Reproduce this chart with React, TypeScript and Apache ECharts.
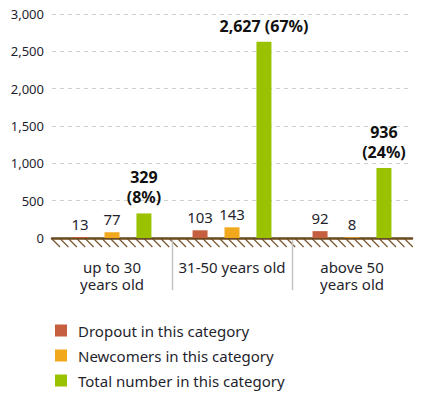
import React, { useEffect, useRef } from "react";
import * as echarts from "echarts";

const categories = ["up to 30\nyears old", "31-50 years old", "above 50\nyears old"];
const dropout = [13, 103, 92];
const newcomers = [77, 143, 8];
const totals = [329, 2627, 936];
const shares = ["8%", "67%", "24%"];
const seriesNames = ["Dropout in this category", "Newcomers in this category", "Total number in this category"];
const yTicks = { min: 0, max: 3000, interval: 500 };

const FONT = "Noto Sans";
const W = 431;
const H = 398;
const GL = 52;
const GR = 412;
const GT = 14;
const GB = 238;

export default function App() {
  const ref = useRef<HTMLDivElement>(null);
  useEffect(() => {
    if (!ref.current) return;
    const chart = echarts.init(ref.current, null, { renderer: "svg" });
    const fmt = (v: number) => v.toLocaleString("en-US");
    const catW = (GR - GL) / categories.length;
    const graphics: any[] = [];
    // hatching under the axis
    for (let x = GL; x < GR - 4; x += 8.4) {
      graphics.push({
        type: "line",
        shape: { x1: x, y1: GB + 1, x2: Math.min(x + 8, GR + 4), y2: GB + 9 },
        style: { stroke: "#7a5631", lineWidth: 1.2 },
        silent: true,
      });
    }
    for (let i = 1; i < categories.length; i++) {
      const x = Math.round(GL + catW * i) + 0.5;
      graphics.push({
        type: "line",
        shape: { x1: x, y1: GB + 1, x2: x, y2: GB + 52 },
        style: { stroke: "#c4c4c4", lineWidth: 1.5 },
        silent: true,
      });
    }
    const baseLabel = {
      show: true,
      position: "top",
      distance: 6,
      fontFamily: FONT,
      fontSize: 15,
      color: "#1f1f2e",
    };
    chart.setOption({
      animation: false,
      grid: { left: GL, right: W - GR, top: GT, bottom: H - GB, containLabel: false },
      legend: {
        orient: "vertical",
        left: 50,
        top: 317,
        height: 90,
        width: 360,
        itemWidth: 12,
        itemHeight: 12,
        itemGap: 8,
        icon: "rect",
        textStyle: { fontFamily: FONT, fontSize: 15, lineHeight: 17, color: "#1f1f2e", padding: [0, 0, 0, 6] },
        data: seriesNames,
      },
      xAxis: {
        type: "category",
        data: categories,
        axisLine: { lineStyle: { color: "#6b4a1f", width: 2.5 } },
        axisTick: { show: false },
        axisLabel: {
          interval: 0,
          fontFamily: FONT,
          fontSize: 15,
          color: "#1f1f2e",
          margin: 20,
          lineHeight: 17,
        },
      },
      yAxis: {
        type: "value",
        min: yTicks.min,
        max: yTicks.max,
        interval: yTicks.interval,
        axisLine: { show: false },
        axisTick: { show: false },
        axisLabel: {
          fontFamily: FONT,
          fontSize: 13,
          color: "#1f1f2e",
          margin: 8,
          formatter: (v: number) => fmt(v),
        },
        splitLine: { lineStyle: { color: "#cfcfcf", type: [4, 4] } },
      },
      series: [
        {
          name: seriesNames[0],
          type: "bar",
          data: dropout,
          barWidth: 15,
          barGap: "113%",
          itemStyle: { color: "#c55f3f" },
          label: { ...baseLabel, formatter: (p: any) => fmt(p.value) },
        },
        {
          name: seriesNames[1],
          type: "bar",
          data: newcomers,
          barWidth: 15,
          itemStyle: { color: "#f2a81d" },
          label: { ...baseLabel, formatter: (p: any) => fmt(p.value) },
        },
        {
          name: seriesNames[2],
          type: "bar",
          data: totals,
          barWidth: 15,
          itemStyle: { color: "#9bc200" },
          label: {
            ...baseLabel,
            fontWeight: "bold",
            fontSize: 16,
            lineHeight: 20,
            color: "#111",
            formatter: (p: any) =>
              p.dataIndex === 1
                ? `${fmt(p.value)} (${shares[p.dataIndex]})`
                : `${fmt(p.value)}\n(${shares[p.dataIndex]})`,
          },
        },
      ],
      graphic: graphics,
    });
    return () => chart.dispose();
  }, []);
  return (
    <div
      ref={ref}
      style={{ position: "fixed", left: 0, top: 0, width: W, height: H, background: "#fff" }}
    />
  );
}
